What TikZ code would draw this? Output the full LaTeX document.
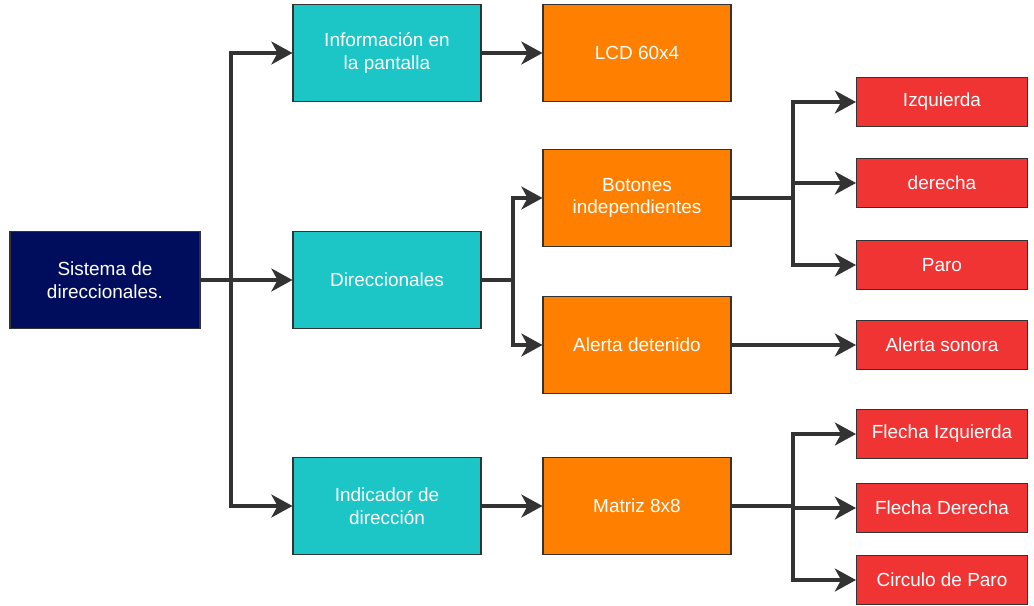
\documentclass[tikz,border=0pt]{standalone}
\usepackage{fontspec}
\setmainfont{Liberation Sans}
\usepackage{xcolor}
\usetikzlibrary{arrows.meta,positioning}
\definecolor{navyblk}{RGB}{0,12,92}
\definecolor{tealblk}{RGB}{28,198,198}
\definecolor{orangeblk}{RGB}{255,128,0}
\definecolor{redblk}{RGB}{240,52,52}
\definecolor{wire}{RGB}{51,51,51}
\tikzset{
	blk/.style={draw=black!80, line width=0.6pt, align=center, text=white,
		font=\fontsize{10.8}{13}\selectfont, inner sep=2pt},
	root/.style={blk, fill=navyblk, minimum width=3.8cm, minimum height=1.94cm},
	sub/.style={blk, fill=tealblk, minimum width=3.76cm, minimum height=1.94cm},
	dev/.style={blk, fill=orangeblk, minimum width=3.76cm, minimum height=1.94cm},
	leaf/.style={blk, fill=redblk, minimum width=3.42cm, minimum height=0.98cm},
	wln/.style={draw=wire, line width=2.2pt},
	arr/.style={wln, -{Stealth[length=12pt, width=13pt, inset=3.5pt]}},
}

\begin{document}
\begin{tikzpicture}[x=0.02cm, y=-0.02cm]
	\useasboundingbox (0,0) rectangle (1034,605);
	% bloques
	\node[root] at (105,280) (sis) {Sistema de\\direccionales.};
	\node[sub] at (387,53) (info) {Información en\\la pantalla};
	\node[sub] at (387,280) (dir) {Direccionales};
	\node[sub] at (387,506) (ind) {Indicador de\\dirección};
	\node[dev] at (637,53) (lcd) {LCD 60x4};
	\node[dev] at (637,198) (bot) {Botones\\independientes};
	\node[dev] at (637,345) (ale) {Alerta detenido};
	\node[dev] at (637,506) (mat) {Matriz 8x8};
	\node[leaf] at (942,102) (izq) {Izquierda};
	\node[leaf] at (942,183) (der) {derecha};
	\node[leaf] at (942,265) (par) {Paro};
	\node[leaf] at (942,345) (son) {Alerta sonora};
	\node[leaf] at (942,434) (fiz) {Flecha Izquierda};
	\node[leaf] at (942,508) (fde) {Flecha Derecha};
	\node[leaf] at (942,580) (cpa) {Circulo de Paro};
	% puntos de reparto
	\coordinate (t1) at (231,280);
	\coordinate (t2) at (513,280);
	\coordinate (t3) at (793,198);
	\coordinate (t4) at (793,506);
	% conexiones
	\draw[wln] (sis.east) -- (t1);
	\draw[arr] (t1) |- (info.west);
	\draw[arr] (t1) -- (dir.west);
	\draw[arr] (t1) |- (ind.west);
	\draw[arr] (info) -- (lcd);
	\draw[wln] (dir.east) -- (t2);
	\draw[arr] (t2) |- (bot.west);
	\draw[arr] (t2) |- (ale.west);
	\draw[arr] (ind) -- (mat);
	\draw[wln] (bot.east) -- (t3);
	\draw[arr] (t3) |- (izq.west);
	\draw[arr] (t3) |- (der.west);
	\draw[arr] (t3) |- (par.west);
	\draw[arr] (ale) -- (son);
	\draw[wln] (mat.east) -- (t4);
	\draw[arr] (t4) |- (fiz.west);
	\draw[arr] (t4) |- (fde.west);
	\draw[arr] (t4) |- (cpa.west);
\end{tikzpicture}
\end{document}
